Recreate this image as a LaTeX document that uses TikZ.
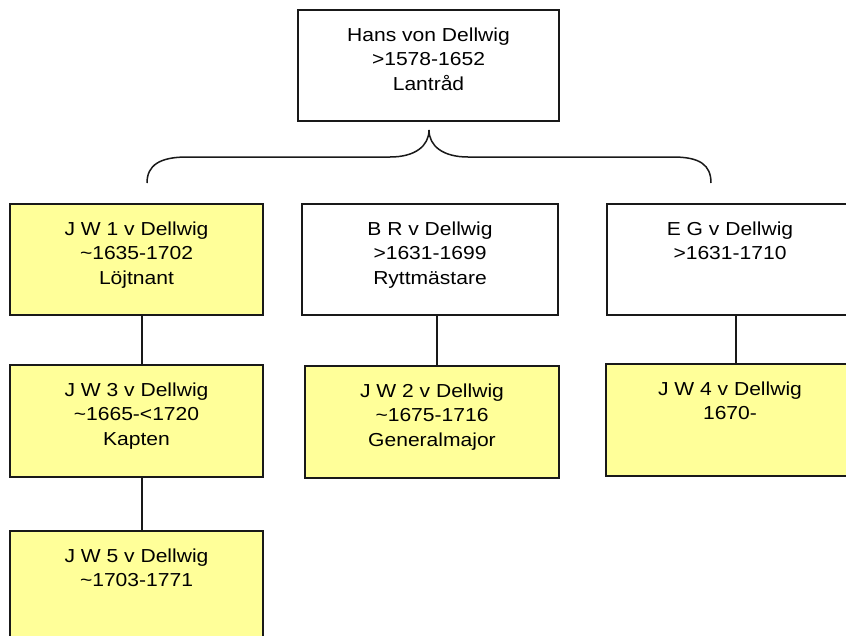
\documentclass[tikz,border=0pt]{standalone}
\usepackage{fontspec}
\setmainfont[FakeStretch=1.12]{Liberation Sans}
\definecolor{pale}{RGB}{255,255,153}
\definecolor{edge}{RGB}{25,25,25}
\newcommand\bxt[3]{\parbox[c][#2pt][t]{#1pt}{\centering\fontsize{18.8pt}{24.7pt}\selectfont\rule{0pt}{31pt}#3}}
\tikzset{
  famillybox/.style={draw=edge, line width=1.5pt, rectangle, inner sep=0pt, outer sep=0pt},
  yel/.style={famillybox, fill=pale},
  wht/.style={famillybox, fill=white},
  link/.style={draw=edge, line width=1.5pt},
}
\begin{document}
\begin{tikzpicture}[x=1pt,y=-1pt]
\useasboundingbox (0,0) rectangle (846,635);
\clip (0,0) rectangle (846,635);
\fill[white] (0,0) rectangle (846,635);
\node[wht] (hans) at (428.5,65.5) {\bxt{261}{111}{Hans von Dellwig\\>1578-1652\\Lantråd}};
\node[yel] (jw1) at (136.5,259.5) {\bxt{253}{111}{J W 1 v Dellwig\\\char`~1635-1702\\Löjtnant}};
\node[wht] (br) at (430,259.5) {\bxt{256}{111}{B R v Dellwig\\>1631-1699\\Ryttmästare}};
\node[wht] (eg) at (730,259.5) {\bxt{246}{111}{E G v Dellwig\\>1631-1710}};
\node[yel] (jw3) at (136.5,421) {\bxt{253}{112}{J W 3 v Dellwig\\\char`~1665-<1720\\Kapten}};
\node[yel] (jw2) at (432,422) {\bxt{254}{112}{J W 2 v Dellwig\\\char`~1675-1716\\Generalmajor}};
\node[yel] (jw4) at (730,420) {\bxt{248}{112}{J W 4 v Dellwig\\1670-}};
\node[yel] (jw5) at (136.5,587) {\bxt{253}{112}{J W 5 v Dellwig\\\char`~1703-1771}};
% brace
\coordinate (tip) at (429,130);
\draw[link] (147,183) .. controls (147,165) and (160,157) .. (187,157)
  -- (390,157) .. controls (415,157) and (429,146) .. (tip)
  .. controls (429,146) and (443,157) .. (468,157)
  -- (673,157) .. controls (700,157) and (711,165) .. (711,183);
% connectors
\draw[link] ([xshift=5.5pt]jw1.south) -- ([xshift=5.5pt]jw3.north);
\draw[link] ([xshift=5.5pt]jw3.south) -- ([xshift=5.5pt]jw5.north);
\draw[link] ([xshift=7pt]br.south) -- ([xshift=5pt]jw2.north);
\draw[link] ([xshift=6pt]eg.south) -- ([xshift=6pt]jw4.north);
\end{tikzpicture}
\end{document}
